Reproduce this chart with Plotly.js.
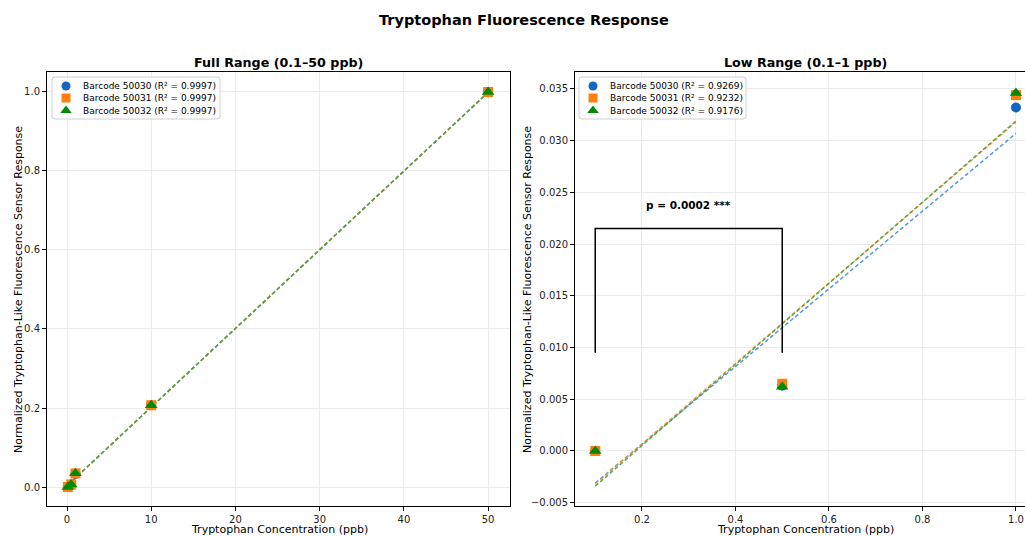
<!DOCTYPE html>
<html><head><meta charset="utf-8">
<script src="https://cdn.plot.ly/plotly-3.0.1.min.js"></script>
<style>html,body{margin:0;padding:0;overflow:hidden;background:#fff}#c{width:1025px;height:536px}</style>
</head><body><div id="c"></div>
<script>
// ---- data ----
const concFull = [0.1, 0.5, 1, 10, 50];
const full50030 = [0.0, 0.0063, 0.0332, 0.207, 1.0];
const full50031 = [0.0, 0.0065, 0.0344, 0.207, 1.0];
const full50032 = [0.0, 0.0062, 0.0346, 0.207, 1.0];
const fitFullX = [0.1, 50];
const fitFull50030 = [0.005, 0.999];
const fitFull50031 = [0.005, 0.999];
const fitFull50032 = [0.005, 0.999];

const concLow = [0.1, 0.5, 1.0];
const low50030 = [0.0, 0.0063, 0.0332];
const low50031 = [0.0, 0.0065, 0.0344];
const low50032 = [0.0, 0.0062, 0.0346];
const fitLowX = [0.1, 1.0];
const fitLow50030 = [-0.0031, 0.0307];
const fitLow50031 = [-0.0032, 0.0318];
const fitLow50032 = [-0.0034, 0.0319];

const names = ['Barcode 50030', 'Barcode 50031', 'Barcode 50032'];
const r2Full = ['0.9997', '0.9997', '0.9997'];
const r2Low = ['0.9269', '0.9232', '0.9176'];

const bracketX = [0.1, 0.1, 0.5, 0.5];
const bracketY = [0.0095, 0.0215, 0.0215, 0.0095];
const pText = 'p = 0.0002 ***';
const pPos = [0.3, 0.0238];

const mainTitle = 'Tryptophan Fluorescence Response';
const subTitles = ['Full Range (0.1–50 ppb)', 'Low Range (0.1–1 ppb)'];
const xLabel = 'Tryptophan Concentration (ppb)';
const yLabel = 'Normalized Tryptophan-Like Fluorescence Sensor Response';

// ---- styles ----
const W = 1025, H = 536;
const colors = ['#1565c0', '#ff7f0e', '#008a00'];
const lineColors = ['rgba(40,125,225,0.8)', 'rgba(255,140,30,0.8)', 'rgba(75,160,55,0.9)'];
const symbols = ['circle', 'square', 'triangle-up'];
const sizes = [10, 10, 11];
const FONT = 'DejaVu Sans, sans-serif';
const DASH = '4px,2.5px';

// plot boxes in pixels, with axis ranges
const boxL = {x0: 47, x1: 510, y0: 72, y1: 506, xr: [-2.375, 52.6], yr: [-0.0481, 1.0506]};
const boxR = {x0: 575, x1: 1025, y0: 72, y1: 506, xr: [0.0567, 1.0193], yr: [-0.00532, 0.03664]};
// legend boxes in pixels
const legL = {x0: 52, x1: 220, y0: 77, y1: 119};
const legR = {x0: 579, x1: 746, y0: 77, y1: 119};
const legRows = [86, 98, 110.5];

const fullY = [full50030, full50031, full50032];
const fullFit = [fitFull50030, fitFull50031, fitFull50032];
const lowY = [low50030, low50031, low50032];
const lowFit = [fitLow50030, fitLow50031, fitLow50032];

const traces = [];
for (let i = 0; i < 3; i++) {
  traces.push({x: fitFullX, y: fullFit[i], mode: 'lines', xaxis: 'x', yaxis: 'y',
    line: {color: lineColors[i], width: 1.5, dash: DASH}, showlegend: false, hoverinfo: 'skip'});
}
for (let i = 0; i < 3; i++) {
  traces.push({x: concFull, y: fullY[i], mode: 'markers', xaxis: 'x', yaxis: 'y', showlegend: false,
    marker: {color: colors[i], symbol: symbols[i], size: sizes[i]}});
}
for (let i = 0; i < 3; i++) {
  traces.push({x: fitLowX, y: lowFit[i], mode: 'lines', xaxis: 'x2', yaxis: 'y2',
    line: {color: lineColors[i], width: 1.5, dash: DASH}, showlegend: false, hoverinfo: 'skip'});
}
for (let i = 0; i < 3; i++) {
  traces.push({x: concLow, y: lowY[i], mode: 'markers', xaxis: 'x2', yaxis: 'y2', showlegend: false,
    marker: {color: colors[i], symbol: symbols[i], size: sizes[i]}});
}
traces.push({x: bracketX, y: bracketY, mode: 'lines', xaxis: 'x2', yaxis: 'y2',
  line: {color: '#000', width: 1.5}, showlegend: false, hoverinfo: 'skip'});

// legend symbols drawn on a pixel overlay axis pair
const annotations = [];
const shapes = [];
function addLegend(box, labels, r2, xa, ya, p) {
  for (let i = 0; i < 3; i++) {
    traces.push({x: [box.x0 + 14], y: [legRows[i]], mode: 'markers', xaxis: 'x3', yaxis: 'y3', showlegend: false, hoverinfo: 'skip',
      marker: {color: colors[i], symbol: symbols[i], size: sizes[i] - 1}});
    annotations.push({text: labels[i] + ' (R² = ' + r2[i] + ')', xref: 'paper', yref: 'paper',
      x: (box.x0 + 29) / W, y: 1 - legRows[i] / H, xanchor: 'left', yanchor: 'middle', showarrow: false,
      font: {family: FONT, size: 9, color: '#000'}});
  }
  const px2x = v => p.xr[0] + (v - p.x0) / (p.x1 - p.x0) * (p.xr[1] - p.xr[0]);
  const py2y = v => p.yr[1] - (v - p.y0) / (p.y1 - p.y0) * (p.yr[1] - p.yr[0]);
  const r = 3;
  const pts = [
    ['M', box.x0 + r, box.y0], ['L', box.x1 - r, box.y0], ['Q', box.x1, box.y0, box.x1, box.y0 + r],
    ['L', box.x1, box.y1 - r], ['Q', box.x1, box.y1, box.x1 - r, box.y1],
    ['L', box.x0 + r, box.y1], ['Q', box.x0, box.y1, box.x0, box.y1 - r],
    ['L', box.x0, box.y0 + r], ['Q', box.x0, box.y0, box.x0 + r, box.y0]
  ];
  let path = '';
  pts.forEach(s => {
    path += s[0];
    for (let k = 1; k < s.length; k += 2) path += (k > 1 ? ' ' : '') + px2x(s[k]) + ',' + py2y(s[k + 1]);
  });
  path += ' Z';
  shapes.push({type: 'path', xref: xa, yref: ya, layer: 'between', path: path,
    fillcolor: 'rgba(255,255,255,0.85)', line: {color: '#d0d0d0', width: 1}});
}
addLegend(legL, names, r2Full, 'x', 'y', boxL);
addLegend(legR, names, r2Low, 'x2', 'y2', boxR);

const axBase = {
  showline: true, linecolor: '#000', linewidth: 1, mirror: true,
  ticks: 'outside', ticklen: 4, tickcolor: '#000', tickwidth: 1,
  showgrid: true, gridcolor: '#ebebeb', gridwidth: 1, zeroline: false,
  tickfont: {family: FONT, size: 10, color: '#222'}
};

annotations.push(
  {text: '<b>' + mainTitle + '</b>', xref: 'paper', yref: 'paper', x: 524 / W, y: 1 - 20 / H, xanchor: 'center', yanchor: 'middle', showarrow: false, font: {family: FONT, size: 14.5, color: '#000'}},
  {text: '<b>' + subTitles[0] + '</b>', xref: 'paper', yref: 'paper', x: 278 / W, y: 1 - 62 / H, xanchor: 'center', yanchor: 'middle', showarrow: false, font: {family: FONT, size: 12.7, color: '#000'}},
  {text: '<b>' + subTitles[1] + '</b>', xref: 'paper', yref: 'paper', x: 805 / W, y: 1 - 62 / H, xanchor: 'center', yanchor: 'middle', showarrow: false, font: {family: FONT, size: 12.7, color: '#000'}},
  {text: xLabel, xref: 'paper', yref: 'paper', x: 279 / W, y: 1 - 529 / H, xanchor: 'center', yanchor: 'middle', showarrow: false, font: {family: FONT, size: 11, color: '#000'}},
  {text: xLabel, xref: 'paper', yref: 'paper', x: 805 / W, y: 1 - 529 / H, xanchor: 'center', yanchor: 'middle', showarrow: false, font: {family: FONT, size: 11, color: '#000'}},
  {text: yLabel, xref: 'paper', yref: 'paper', x: 18 / W, y: 1 - 290 / H, xanchor: 'center', yanchor: 'middle', textangle: -90, showarrow: false, font: {family: FONT, size: 11, color: '#000'}},
  {text: yLabel, xref: 'paper', yref: 'paper', x: 527 / W, y: 1 - 290 / H, xanchor: 'center', yanchor: 'middle', textangle: -90, showarrow: false, font: {family: FONT, size: 11, color: '#000'}},
  {text: '<b>' + pText + '</b>', xref: 'x2', yref: 'y2', x: pPos[0], y: pPos[1], xanchor: 'center', yanchor: 'middle', showarrow: false, font: {family: FONT, size: 10.5, color: '#000'}}
);

const layout = {
  width: W, height: H,
  margin: {l: 0, r: 0, t: 0, b: 0},
  paper_bgcolor: '#fff', plot_bgcolor: 'rgba(0,0,0,0)',
  font: {family: FONT, color: '#000'},
  showlegend: false,
  xaxis: Object.assign({}, axBase, {domain: [boxL.x0 / W, boxL.x1 / W], range: boxL.xr, tickvals: [0, 10, 20, 30, 40, 50], anchor: 'y'}),
  yaxis: Object.assign({}, axBase, {domain: [1 - boxL.y1 / H, 1 - boxL.y0 / H], range: boxL.yr, tickvals: [0, 0.2, 0.4, 0.6, 0.8, 1.0], tickformat: '.1f', anchor: 'x'}),
  xaxis2: Object.assign({}, axBase, {domain: [boxR.x0 / W, 1], range: boxR.xr, tickvals: [0.2, 0.4, 0.6, 0.8, 1.0], tickformat: '.1f', anchor: 'y2'}),
  yaxis2: Object.assign({}, axBase, {domain: [1 - boxR.y1 / H, 1 - boxR.y0 / H], range: boxR.yr, mirror: false, tickvals: [-0.005, 0, 0.005, 0.01, 0.015, 0.02, 0.025, 0.03, 0.035], tickformat: '.3f', anchor: 'x2'}),
  xaxis3: {domain: [0, 1], range: [0, W], visible: false, showgrid: false, zeroline: false, anchor: 'y3', fixedrange: true},
  yaxis3: {domain: [0, 1], range: [H, 0], visible: false, showgrid: false, zeroline: false, anchor: 'x3', fixedrange: true},
  shapes: shapes,
  annotations: annotations
};
Plotly.newPlot('c', traces, layout, {displayModeBar: false, staticPlot: true});
</script></body></html>
